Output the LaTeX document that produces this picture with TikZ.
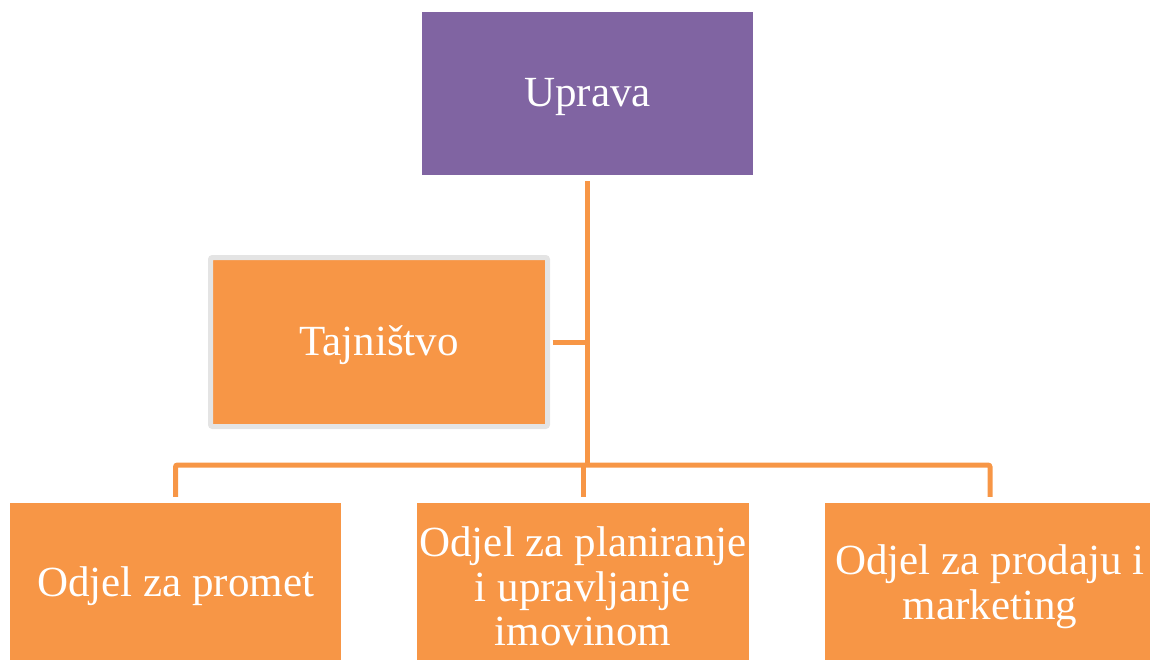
\documentclass[tikz,border=0pt]{standalone}
\usepackage{fontspec}
\setmainfont{Liberation Serif}[Ligatures=TeX]
\newfontfamily\tnr{Liberation Serif}
\definecolor{orgfill}{HTML}{F79646}
\definecolor{purfill}{HTML}{8064A2}
\definecolor{brdgray}{HTML}{E4E4E4}
\begin{document}
\begin{tikzpicture}[x=1pt,y=-1pt,
  box/.style={fill=orgfill,draw=none,inner sep=0pt},
  txt/.style={text=white,align=center,inner sep=0pt,yshift=-3.5pt,
    font=\tnr\fontsize{43}{44.5}\selectfont},
  conn/.style={draw=orgfill,line width=5pt,rounded corners=2pt}]
\useasboundingbox (0,0) rectangle (1150,659);
\node[box,fill=purfill,minimum width=331pt,minimum height=163pt,
  label={[txt,name=upt]center:Uprava}] (up) at (587.5,93.5) {};
\node[box,draw=brdgray,line width=5pt,rounded corners=2pt,minimum width=337pt,minimum height=169pt,
  label={[txt,name=tajt]center:Tajništvo}] (taj) at (379,342) {};
\node[box,minimum width=331pt,minimum height=160pt,
  label={[txt,name=at]center:Odjel za promet}] (a) at (175.5,583) {};
\node[box,minimum width=332pt,minimum height=160pt,
  label={[txt,name=bt]center:{Odjel za planiranje\\i upravljanje\\imovinom}}] (b) at (583,583) {};
\node[box,minimum width=330pt,minimum height=160pt,
  label={[txt,name=ct]center:{Odjel za prodaju i\\marketing}}] (c) at (990,583) {};
\coordinate (bus) at (588,465);
\draw[conn] ([yshift=-6pt]up.south) -- (up.south |- bus);
\draw[conn] ([xshift=2.5pt]taj.east) -- (taj.east -| up.south);
\draw[conn] ([yshift=6pt]a.north) |- (bus) -| ([yshift=6pt]c.north);
\draw[conn] ([yshift=6pt]b.north) -- (b.north |- bus);
\end{tikzpicture}
\end{document}
